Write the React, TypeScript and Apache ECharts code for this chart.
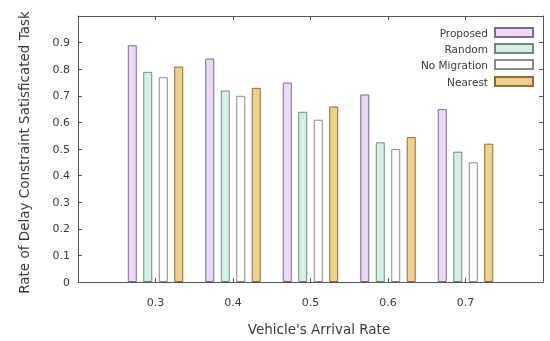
import React, { useEffect, useRef } from "react";
import * as echarts from "echarts";

const categories = ["", "0.3", "0.4", "0.5", "0.6", "0.7", ""];
const proposed = ["-", 0.89, 0.84, 0.75, 0.705, 0.65, "-"];
const random = ["-", 0.79, 0.72, 0.64, 0.525, 0.49, "-"];
const noMigration = ["-", 0.77, 0.70, 0.61, 0.50, 0.45, "-"];
const nearest = ["-", 0.81, 0.73, 0.66, 0.545, 0.52, "-"];
const seriesNames = ["Proposed", "Random", "No Migration", "Nearest"];

const fills = ["#ead8f6", "#d6efe5", "#ffffff", "#f1d08f"];
const borders = ["#7d6b8c", "#6f8a80", "#8a8a8a", "#8a6d3a"];

export default function App() {
  const ref = useRef<HTMLDivElement>(null);
  useEffect(() => {
    if (!ref.current) return;
    const chart = echarts.init(ref.current, null, { renderer: "svg" });
    const font = "DejaVu Sans";
    const textColor = "#3a3a3a";
    const lineColor = "#555";
    const dataSets = [proposed, random, noMigration, nearest];
    const legendTops = [27, 43, 59, 76];
    const axisLine = { show: true, onZero: false, lineStyle: { color: lineColor } };
    const axisTick = { show: true, inside: true, length: 4, lineStyle: { color: lineColor } };
    chart.setOption({
      animation: false,
      textStyle: { fontFamily: font },
      grid: { left: 78, right: 7, top: 16, bottom: 58 },
      legend: seriesNames.map((n, i) => ({
        data: [{ name: n, icon: "rect" }],
        right: 16,
        top: legendTops[i],
        align: "right",
        itemWidth: 38,
        itemHeight: 9,
        itemGap: 0,
        selectedMode: false,
        textStyle: { fontFamily: font, fontSize: 10.5, color: textColor, padding: [0, 2, 0, 0] },
        padding: 0,
      })),
      xAxis: [
        {
          type: "category",
          data: categories,
          boundaryGap: false,
          name: "Vehicle's Arrival Rate",
          nameLocation: "middle",
          nameGap: 40,
          nameTextStyle: { fontFamily: font, fontSize: 13.5, color: textColor, padding: [0, 0, 0, 17] },
          axisLine,
          axisTick,
          axisLabel: { fontFamily: font, fontSize: 11, color: textColor, margin: 15 },
          splitLine: { show: false },
        },
        {
          type: "category",
          data: categories,
          boundaryGap: false,
          position: "top",
          axisLine,
          axisTick,
          axisLabel: { show: false },
          splitLine: { show: false },
        },
      ],
      yAxis: [
        {
          type: "value",
          min: 0,
          max: 1,
          interval: 0.1,
          name: "Rate of Delay Constraint Satisficated Task",
          nameLocation: "middle",
          nameGap: 47,
          nameTextStyle: { fontFamily: font, fontSize: 13.5, color: textColor, padding: [0, 7, 0, 0] },
          axisLine,
          axisTick,
          axisLabel: {
            fontFamily: font,
            fontSize: 11,
            color: textColor,
            margin: 8,
            formatter: (v: number) => (v >= 0.999 ? "" : String(Math.round(v * 10) / 10)),
          },
          splitLine: { show: false },
        },
        {
          type: "value",
          min: 0,
          max: 1,
          interval: 0.1,
          position: "right",
          axisLine,
          axisTick,
          axisLabel: { show: false },
          splitLine: { show: false },
        },
      ],
      series: seriesNames.map((n, i) => ({
        name: n,
        type: "bar",
        xAxisIndex: 0,
        yAxisIndex: 0,
        data: dataSets[i],
        barWidth: 9,
        barGap: "72%",
        itemStyle: { color: fills[i], borderColor: borders[i], borderWidth: 1 },
      })),
    });
    return () => chart.dispose();
  }, []);
  return (
    <div
      ref={ref}
      style={{ position: "fixed", left: 0, top: 0, width: 550, height: 341 }}
    />
  );
}
